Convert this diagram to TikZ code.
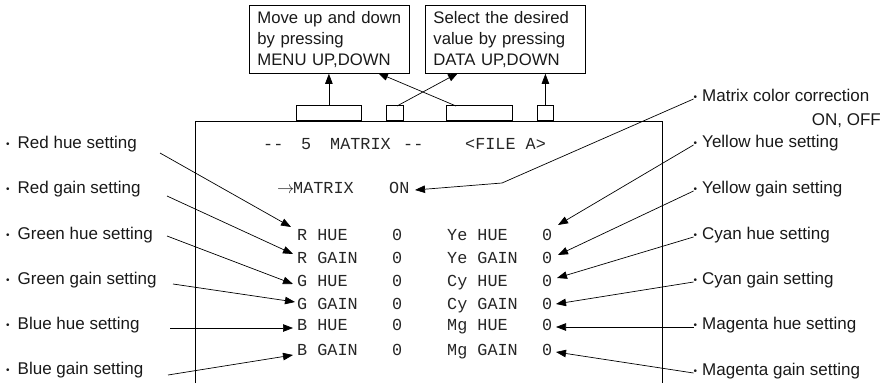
\documentclass[tikz,border=0pt]{standalone}
\usepackage{fontspec}
\setmainfont{Liberation Sans}
\setmonofont{Liberation Mono}
\usetikzlibrary{arrows.meta}
\newcommand{\mybul}{\raisebox{1.2pt}{\fontsize{10}{10}\selectfont •}}
\begin{document}
\begin{tikzpicture}[x=1pt,y=-1pt,
  lbl/.style={anchor=mid west, inner sep=0pt, font=\fontsize{17}{20}\selectfont, text=black!90},
  scr/.style={anchor=mid west, inner sep=0pt, font=\ttfamily\fontsize{16.8}{18}\selectfont, text=black!85},
  note/.style={draw, line width=0.8pt, minimum width=160pt, minimum height=68pt, text width=144pt, inner xsep=8pt, inner ysep=0pt, align=left, font=\fontsize{16.7}{21}\selectfont, text=black!90, anchor=north west},
  tab/.style={draw, line width=0.8pt, anchor=south west, minimum height=15pt, inner sep=0pt},
  arr/.style={line width=0.7pt, -{Triangle[length=10pt,width=7.5pt]}},
  ln/.style={line width=0.8pt}
]
\useasboundingbox (0,0) rectangle (889,383);

% top notes
\node[note] (box1) at (249,5) {Move up and down\\by pressing\\MENU UP,DOWN};
\node[note] (box2) at (425,5) {Select the desired\\value by pressing\\DATA UP,DOWN};

% screen frame
\draw[ln] (195,383) -- (195,121) -- (662,121) -- (662,383);

% tabs
\node[tab, minimum width=65pt] (tab1) at (296,121) {};
\node[tab, minimum width=17pt] (tab2) at (386,121) {};
\node[tab, minimum width=66pt] (tab3) at (446,121) {};
\node[tab, minimum width=16pt] (tab4) at (537,121) {};

\coordinate (t2s) at (397,106);
\coordinate (t2e) at (458,73);
\coordinate (t3s) at (456,106);
\coordinate (t3e) at (378,73);
\draw[arr] (tab1.north) -- (tab1.north |- box1.south);
\draw[arr] (tab4.north) -- (tab4.north |- box2.south);
\draw[arr] (t2s) -- (t2e);
\draw[arr] (t3s) -- (t3e);

% screen text
\node[scr] (h1) at (263,147) {-{}-};
\node[scr] (h2) at (301,147) {5};
\node[scr] (h3) at (330,147) {MATRIX};
\node[scr] (h4) at (403,147) {-{}-};
\node[scr] (h5) at (465,147) {<FILE A>};

\node[anchor=mid west, inner sep=0pt, font=\fontsize{16}{18}\selectfont, text=black!85] (marr) at (277,191) {$\rightarrow$};
\node[scr] (mtx) at (293,191) {MATRIX};
\node[scr] (on) at (389,191) {ON};

\node[scr] (rh) at (297,237.5) {R HUE};
\node[scr] (rh0) at (392,237.5) {0};
\node[scr] (rg) at (297,261) {R GAIN};
\node[scr] (rg0) at (392,261) {0};
\node[scr] (gh) at (297,284) {G HUE};
\node[scr] (gh0) at (392,284) {0};
\node[scr] (gg) at (297,306.5) {G GAIN};
\node[scr] (gg0) at (392,306.5) {0};
\node[scr] (bh) at (297,328) {B HUE};
\node[scr] (bh0) at (392,328) {0};
\node[scr] (bg) at (297,352.5) {B GAIN};
\node[scr] (bg0) at (392,352.5) {0};

\node[scr] (yh) at (447,237.5) {Ye HUE};
\node[scr] (yh0) at (542,237.5) {0};
\node[scr] (yg) at (447,261) {Ye GAIN};
\node[scr] (yg0) at (542,261) {0};
\node[scr] (ch) at (447,284) {Cy HUE};
\node[scr] (ch0) at (542,284) {0};
\node[scr] (cg) at (447,306.5) {Cy GAIN};
\node[scr] (cg0) at (542,306.5) {0};
\node[scr] (mh) at (447,328) {Mg HUE};
\node[scr] (mh0) at (542,328) {0};
\node[scr] (mg) at (447,352.5) {Mg GAIN};
\node[scr] (mg0) at (542,352.5) {0};

% left labels
\node[lbl] (lRH) at (6,146) {\mybul\hspace{8pt}Red hue setting};
\node[lbl] (lRG) at (6,191) {\mybul\hspace{8pt}Red gain setting};
\node[lbl] (lGH) at (6,237) {\mybul\hspace{8pt}Green hue setting};
\node[lbl] (lGG) at (6,282) {\mybul\hspace{8pt}Green gain setting};
\node[lbl] (lBH) at (6,327) {\mybul\hspace{8pt}Blue hue setting};
\node[lbl] (lBG) at (6,372) {\mybul\hspace{8pt}Blue gain setting};

\coordinate (sRH) at (160,153); \coordinate (eRH) at (291,227);
\coordinate (sRG) at (167,196); \coordinate (eRG) at (293,254);
\coordinate (sGH) at (167,236); \coordinate (eGH) at (293,284);
\coordinate (sGG) at (173,284); \coordinate (eGG) at (295,302);
\coordinate (sBH) at (170,328); \coordinate (eBH) at (293,328);
\coordinate (sBG) at (168,375); \coordinate (eBG) at (293,355);
\draw[arr] (sRH) -- (eRH);
\draw[arr] (sRG) -- (eRG);
\draw[arr] (sGH) -- (eGH);
\draw[arr] (sGG) -- (eGG);
\draw[arr] (sBH) -- (eBH);
\draw[arr] (sBG) -- (eBG);

% right labels
\node[lbl] (rMC) at (693.5,99) {\mybul\hspace{5pt}Matrix color correction};
\node[lbl, anchor=mid east] (rOO) at (881,123) {ON, OFF};
\node[lbl] (rYH) at (693.5,145) {\mybul\hspace{5pt}Yellow hue setting};
\node[lbl] (rYG) at (693.5,191) {\mybul\hspace{5pt}Yellow gain setting};
\node[lbl] (rCH) at (693.5,237) {\mybul\hspace{5pt}Cyan hue setting};
\node[lbl] (rCG) at (693.5,282) {\mybul\hspace{5pt}Cyan gain setting};
\node[lbl] (rMH) at (693.5,327) {\mybul\hspace{5pt}Magenta hue setting};
\node[lbl] (rMG) at (693.5,373) {\mybul\hspace{5pt}Magenta gain setting};

\coordinate (kMC) at (502,183); \coordinate (eMC) at (415,190);
\coordinate (eYH) at (558,225);
\coordinate (eYG) at (558,255);
\coordinate (eCH) at (557,278);
\coordinate (eCG) at (556,304);
\coordinate (eMH) at (556,327);
\coordinate (eMG) at (556,352);
\draw[arr] (rMC.mid west) -- (kMC) -- (eMC);
\draw[arr] (rYH.mid west) -- (eYH);
\draw[arr] (rYG.mid west) -- (eYG);
\draw[arr] (rCH.mid west) -- (eCH);
\draw[arr] (rCG.mid west) -- (eCG);
\draw[arr] (rMH.mid west) -- (eMH);
\draw[arr] (rMG.mid west) -- (eMG);
\end{tikzpicture}
\end{document}
